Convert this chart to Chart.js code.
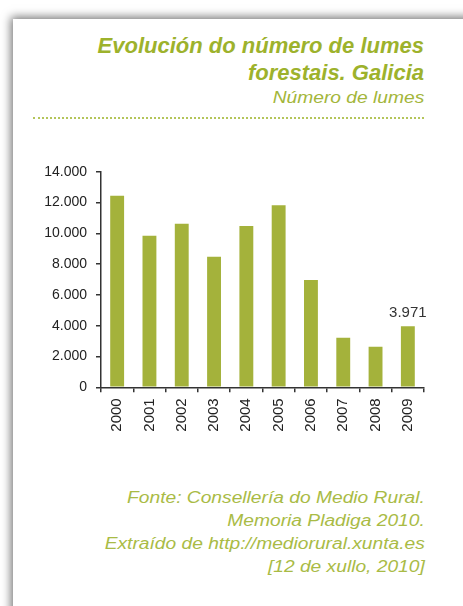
<!DOCTYPE html>
<html>
<head>
<meta charset="utf-8">
<script src="https://cdn.jsdelivr.net/npm/chart.js@4.4.0/dist/chart.umd.min.js"></script>
<style>
  body { margin: 0; width: 463px; height: 606px; overflow: hidden; background: #fff; font-family: "Liberation Sans", Arial, sans-serif; position: relative; }
  #card { position: absolute; left: 13px; top: 19px; width: 480px; height: 620px; background: #fff; box-shadow: -2px -2px 9px rgba(0,0,0,0.55); }
  #title { position: absolute; right: 39px; top: 32px; text-align: right; color: #9db22c; font-weight: bold; font-style: italic; font-size: 22px; line-height: 27px; }
  #sub { position: absolute; right: 39px; top: 89px; color: #a3b63a; font-style: italic; font-size: 16px; transform: scaleX(1.2); transform-origin: right; }
  #dots { position: absolute; left: 33px; top: 117px; width: 391px; border-top: 2px dotted #b4c55a; }
  #box { position: absolute; left: 0; top: 150px; width: 463px; height: 300px; }
  #foot { position: absolute; right: 38px; top: 486px; text-align: right; color: #a9bb45; font-style: italic; font-size: 16px; line-height: 23px; transform: scaleX(1.2); transform-origin: right; }
</style>
</head>
<body>
<div id="card"></div>
<div id="title">Evolución do número de lumes<br>forestais. Galicia</div>
<div id="sub">Número de lumes</div>
<div id="dots"></div>
<div id="box"><canvas id="myChart"></canvas></div>
<div id="foot">Fonte: Consellería do Medio Rural.<br>Memoria Pladiga 2010.<br>Extraído de http://mediorural.xunta.es<br>[12 de xullo, 2010]</div>
<script>
var anos = ["2000", "2001", "2002", "2003", "2004", "2005", "2006", "2007", "2008", "2009"];
var lumes = [12440, 9840, 10620, 8480, 10470, 11820, 6970, 3220, 2640, 3971];
var etiquetaIndex = 9;

function formatNum(v) {
    return String(v).replace(/\B(?=(\d{3})+(?!\d))/g, ".");
}

// label above the last bar
var valueLabel = {
    id: 'valueLabel',
    afterDatasetsDraw: function(chart) {
        var ctx = chart.ctx;
        var bar = chart.getDatasetMeta(0).data[etiquetaIndex];
        ctx.save();
        ctx.fillStyle = '#333';
        ctx.font = '15px "Liberation Sans", Arial, sans-serif';
        ctx.textAlign = 'center';
        ctx.textBaseline = 'bottom';
        ctx.fillText(formatNum(lumes[etiquetaIndex]), bar.x, bar.y - 6);
        ctx.restore();
    }
};

var ctx = document.getElementById('myChart').getContext('2d');
var chart = new Chart(ctx, {
    type: 'bar',
    data: {
        labels: anos,
        datasets: [{
            data: lumes,
            backgroundColor: '#a4b23b',
            barPercentage: 1,
            categoryPercentage: 0.43
        }]
    },
    options: {
        responsive: true,
        maintainAspectRatio: false,
        animation: false,
        layout: { padding: { top: 21.7, right: 39, bottom: 0, left: 0 } },
        plugins: { legend: { display: false }, tooltip: { enabled: false } },
        scales: {
            x: {
                afterFit: function(s) { s.height = 62.7; },
                border: { color: '#333', width: 1.5 },
                grid: { drawOnChartArea: false, color: '#333', tickLength: 5, lineWidth: 1.5 },
                ticks: {
                    minRotation: 90, maxRotation: 90, padding: 6, color: '#222',
                    font: { family: '"Liberation Sans", Arial, sans-serif', size: 15 }
                }
            },
            y: {
                min: 0, max: 14000,
                afterFit: function(s) { s.width = 101; },
                border: { color: '#333', width: 1.5 },
                grid: { drawOnChartArea: false, color: '#333', tickLength: 5, lineWidth: 1.5 },
                ticks: {
                    stepSize: 2000, padding: 9, color: '#222',
                    font: { family: '"Liberation Sans", Arial, sans-serif', size: 14 },
                    callback: function(v) { return formatNum(v); }
                }
            }
        }
    },
    plugins: [valueLabel]
});
</script>
</body>
</html>
